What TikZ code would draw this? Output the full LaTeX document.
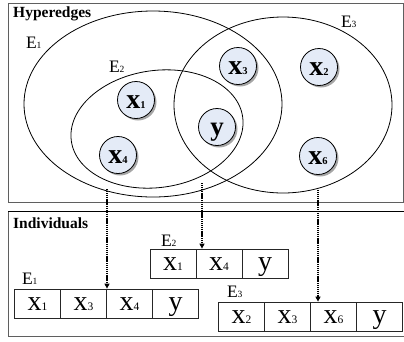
\documentclass[tikz,border=0pt]{standalone}
\usepackage{fontspec}
\setmainfont{Liberation Serif}
\usetikzlibrary{shapes.geometric,arrows.meta,shadows}
\definecolor{nodefill}{RGB}{228,235,247}
\definecolor{framegray}{RGB}{95,95,95}
\newcommand{\bvar}[1]{{\fontsize{28}{28}\selectfont\bfseries x}{\fontsize{10.5}{10.5}\selectfont\bfseries #1}}
\newcommand{\cvar}[1]{{\fontsize{28}{28}\selectfont x}{\fontsize{11.5}{11.5}\selectfont #1}}
\newcommand{\elab}[1]{{\fontsize{17.5}{17.5}\selectfont E}{\fontsize{9.5}{9.5}\selectfont #1}}
\begin{document}
\begin{tikzpicture}[x=1pt,y=-1pt,
  hedge/.style={ellipse, draw=black, line width=0.8pt, inner sep=0pt, outer sep=0pt},
  ent/.style={circle, draw=black, line width=0.8pt, fill=nodefill, minimum size=37pt, inner sep=0pt,
    text height=17pt, text depth=0pt,
    drop shadow={shadow xshift=2pt, shadow yshift=-2pt, fill=black, opacity=0.35}},
  lab/.style={inner sep=0pt, outer sep=0pt},
  cell/.style={draw=black!85, line width=0.8pt, minimum width=46pt, minimum height=29pt, inner sep=0pt,
    text height=13pt, text depth=0pt},
  conn/.style={line width=1.4pt, dash pattern=on 1.2pt off 0.7pt, -{Triangle[length=5pt,width=5pt]}},
  title/.style={inner sep=0pt, anchor=base west, font=\fontsize{15.5}{15.5}\selectfont\bfseries}
]
\useasboundingbox (0,0) rectangle (404,341);
% frames
\draw[framegray, line width=0.9pt] (8,3) rectangle (403,202);
\draw[framegray, line width=0.9pt] (8,211) rectangle (408,336);
\draw[black, line width=0.9pt] (8,211) -- (408,211);
\node[title] (th) at (13,17) {Hyperedges};
\node[title] (ti) at (13,228) {Individuals};
% hyperedges
\node[hedge, minimum width=258pt, minimum height=186pt] (E1) at (153,104) {};
\node[hedge, minimum width=173pt, minimum height=117pt, rotate=8] (E2) at (157,129) {};
\node[hedge, minimum width=218pt, minimum height=176pt] (E3) at (283,105) {};
\node[lab, anchor=base west] (lE1) at (26,48) {\elab{1}};
\node[lab, anchor=base west] (lE2) at (109,72) {\elab{2}};
\node[lab, anchor=base west] (lE3) at (341,27) {\elab{3}};
% entities
\node[ent] (x1) at (136,100) {\bvar{1}};
\node[ent] (x4) at (118,155) {\bvar{4}};
\node[ent] (yy) at (217,127) {{\fontsize{27}{27}\selectfont\bfseries y}};
\node[ent] (x3) at (238,66) {\bvar{3}};
\node[ent] (x2) at (319,67) {\bvar{2}};
\node[ent] (x6) at (318,156) {\bvar{6}};
% individuals
\node[lab, anchor=base west] (rE1) at (22,284.5) {\elab{1}};
\node[lab, anchor=base west] (rE2) at (161,246) {\elab{2}};
\node[lab, anchor=base west] (rE3) at (227,297) {\elab{3}};
\node[cell] (c11) at (37.5,303.5) {\cvar{1}};
\node[cell] (c12) at (83.5,303.5) {\cvar{3}};
\node[cell] (c13) at (129.5,303.5) {\cvar{4}};
\node[cell] (c14) at (175.5,303.5) {{\fontsize{28}{28}\selectfont y}};
\node[cell] (c21) at (173,263.5) {\cvar{1}};
\node[cell] (c22) at (219,263.5) {\cvar{4}};
\node[cell] (c23) at (265,263.5) {{\fontsize{28}{28}\selectfont y}};
\node[cell] (c31) at (241.5,316.5) {\cvar{2}};
\node[cell] (c32) at (287.5,316.5) {\cvar{3}};
\node[cell] (c33) at (333.5,316.5) {\cvar{6}};
\node[cell] (c34) at (379.5,316.5) {{\fontsize{28}{28}\selectfont y}};
% connectors
\coordinate (s1) at (107,189);
\coordinate (s2) at (202,183);
\coordinate (s3) at (318,190);
\draw[conn] (s1) -- (s1 |- c13.north);
\draw[conn] (s2) -- (s2 |- c22.north);
\draw[conn] (s3) -- (s3 |- c33.north);
\end{tikzpicture}
\end{document}
